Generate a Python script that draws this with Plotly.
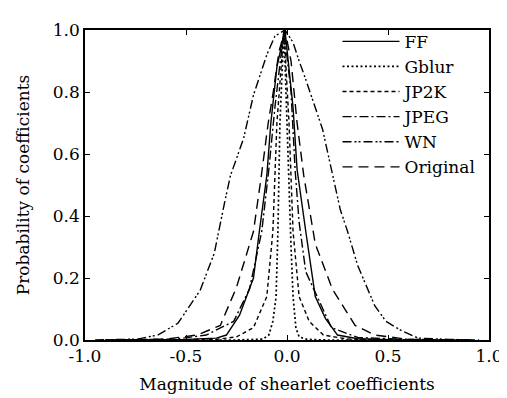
import plotly.graph_objects as go

# ---- data ----
ff_x = [-0.9, -0.5, -0.35, -0.30, -0.235, -0.166, -0.137, -0.10, -0.08, -0.05, -0.01, 0.03, 0.05, 0.07, 0.093, 0.14, 0.19, 0.25, 0.35, 0.5, 0.9]
ff_y = [0.0, 0.002, 0.006, 0.016, 0.08, 0.20, 0.35, 0.53, 0.70, 0.88, 1.0, 0.75, 0.55, 0.45, 0.35, 0.14, 0.07, 0.016, 0.004, 0.001, 0.0]

gblur_x = [-0.6, -0.25, -0.12, -0.09, -0.07, -0.054, -0.045, -0.035, -0.015, 0.0, 0.01, 0.02, 0.03, 0.044, 0.06, 0.1, 0.2, 0.6]
gblur_y = [0.0, 0.0, 0.003, 0.016, 0.06, 0.14, 0.35, 0.70, 1.0, 0.70, 0.45, 0.30, 0.14, 0.04, 0.01, 0.002, 0.0, 0.0]

jp2k_x = [-0.7, -0.35, -0.25, -0.166, -0.10, -0.07, -0.05, -0.015, 0.01, 0.03, 0.06, 0.11, 0.18, 0.3, 0.7]
jp2k_y = [0.0, 0.002, 0.01, 0.04, 0.14, 0.35, 0.70, 1.0, 0.70, 0.35, 0.14, 0.06, 0.016, 0.003, 0.0]

jpeg_x = [-0.85, -0.55, -0.40, -0.264, -0.186, -0.125, -0.09, -0.06, -0.015, 0.02, 0.04, 0.06, 0.093, 0.156, 0.22, 0.35, 0.6, 0.85]
jpeg_y = [0.0, 0.003, 0.016, 0.06, 0.164, 0.35, 0.55, 0.75, 1.0, 0.80, 0.55, 0.38, 0.22, 0.13, 0.04, 0.008, 0.002, 0.0]

wn_x = [-0.95, -0.74, -0.64, -0.54, -0.43, -0.36, -0.31, -0.28, -0.215, -0.166, -0.10, -0.06, -0.01, 0.03, 0.06, 0.093, 0.176, 0.225, 0.264, 0.30, 0.35, 0.435, 0.49, 0.567, 0.65, 0.8, 0.95]
wn_y = [0.0, 0.003, 0.016, 0.054, 0.16, 0.28, 0.44, 0.53, 0.65, 0.79, 0.92, 0.98, 1.0, 0.96, 0.90, 0.84, 0.68, 0.53, 0.42, 0.35, 0.24, 0.11, 0.06, 0.03, 0.006, 0.002, 0.0]

orig_x = [-0.9, -0.6, -0.445, -0.33, -0.25, -0.166, -0.127, -0.093, -0.068, -0.04, -0.01, 0.02, 0.05, 0.083, 0.14, 0.225, 0.337, 0.435, 0.6, 0.9]
orig_y = [0.0, 0.003, 0.016, 0.047, 0.17, 0.35, 0.53, 0.70, 0.80, 0.93, 1.0, 0.90, 0.70, 0.53, 0.31, 0.164, 0.047, 0.016, 0.002, 0.0]

x_ticks = [-1.0, -0.5, 0.0, 0.5, 1.0]
x_tick_labels = ["-1.0", "-0.5", "0.0", "0.5", "1.0"]
y_ticks = [0.0, 0.2, 0.4, 0.6, 0.8, 1.0]
y_tick_labels = ["0.0", "0.2", "0.4", "0.6", "0.8", "1.0"]

FONT = "DejaVu Serif"

series = [
    ("FF", ff_x, ff_y, "solid", 1.4),
    ("Gblur", gblur_x, gblur_y, "2px,2.5px", 1.7),
    ("JP2K", jp2k_x, jp2k_y, "4px,3px", 1.4),
    ("JPEG", jpeg_x, jpeg_y, "9px,3px,2px,3px", 1.4),
    ("WN", wn_x, wn_y, "9px,3px,2px,2px,2px,3px", 1.4),
    ("Original", orig_x, orig_y, "10px,6px", 1.4),
]

fig = go.Figure()
for name, xs, ys, dash, w in series:
    fig.add_trace(go.Scatter(x=xs, y=ys, name=name, mode="lines",
                             line=dict(color="black", width=w, dash=dash)))

axis_common = dict(showline=True, linecolor="black", linewidth=1.5, mirror="ticks",
                   ticks="inside", ticklen=5, tickwidth=1, tickcolor="black",
                   showgrid=False, zeroline=False,
                   tickfont=dict(family=FONT, size=17, color="black"))

fig.update_xaxes(range=[-1.0, 1.0], tickvals=x_ticks, ticktext=x_tick_labels,
                 title=dict(text="Magnitude of shearlet coefficients",
                            font=dict(family=FONT, size=17, color="black"), standoff=13),
                 **axis_common)
fig.update_yaxes(range=[0.0, 1.0], tickvals=y_ticks, ticktext=y_tick_labels,
                 title=dict(text="Probability of coefficients",
                            font=dict(family=FONT, size=17, color="black"), standoff=19),
                 **axis_common)

fig.update_layout(
    width=507, height=398,
    margin=dict(l=77, r=21, t=15, b=66),
    paper_bgcolor="white", plot_bgcolor="white",
    showlegend=True,
    legend=dict(x=0.625, y=1.02, xanchor="left", yanchor="top",
                bgcolor="rgba(0,0,0,0)", borderwidth=0,
                font=dict(family=FONT, size=17, color="black"),
                itemwidth=57, tracegroupgap=0),
    font=dict(family=FONT, color="black"),
)

fig.write_html("out.html")
